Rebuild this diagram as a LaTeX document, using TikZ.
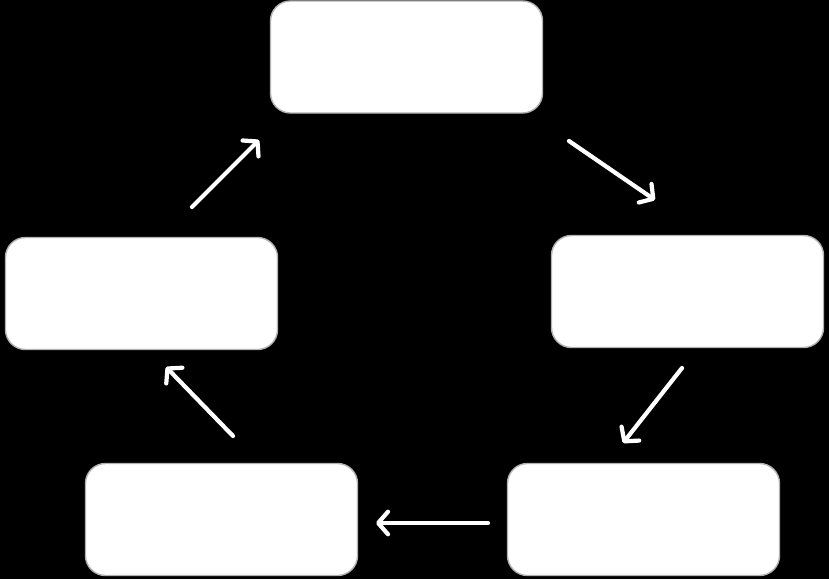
\documentclass[tikz,border=0pt]{standalone}
\usepackage{tikz}
\usetikzlibrary{positioning,arrows.meta}

\begin{document}
\begin{tikzpicture}[x=0.025cm,y=-0.025cm,
  box/.style={draw=white!70!black,line width=1pt,fill=white,rounded corners=0.5cm,minimum width=6.8cm,minimum height=2.8cm,inner sep=0pt},
  flow/.style={draw=white,line width=3pt,line cap=round,-{Straight Barb[length=7pt,width=16pt,line join=round,line cap=round]}}]
  \fill[black] (0,0) rectangle (829,579);
  \useasboundingbox (0,0) rectangle (829,579);
  \node[box] (top) at (406.5,57) {};
  \node[box] (right) at (687.5,291.5) {};
  \node[box] (botright) at (643.5,519.5) {};
  \node[box] (botleft) at (221.5,519.5) {};
  \node[box] (left) at (141.5,293.5) {};
  % free ends of the arrows
  \coordinate (a1) at (569,141); \coordinate (b1) at (655,200);
  \coordinate (a2) at (682,368); \coordinate (b2) at (623,443);
  \coordinate (a3) at (488,523); \coordinate (b3) at (376,523);
  \coordinate (a4) at (233,436); \coordinate (b4) at (166,367);
  \coordinate (a5) at (192,207); \coordinate (b5) at (259,140);
  \draw[flow] (a1) -- (b1);
  \draw[flow] (a2) -- (b2);
  \draw[flow] (a3) -- (b3);
  \draw[flow] (a4) -- (b4);
  \draw[flow] (a5) -- (b5);
\end{tikzpicture}
\end{document}
